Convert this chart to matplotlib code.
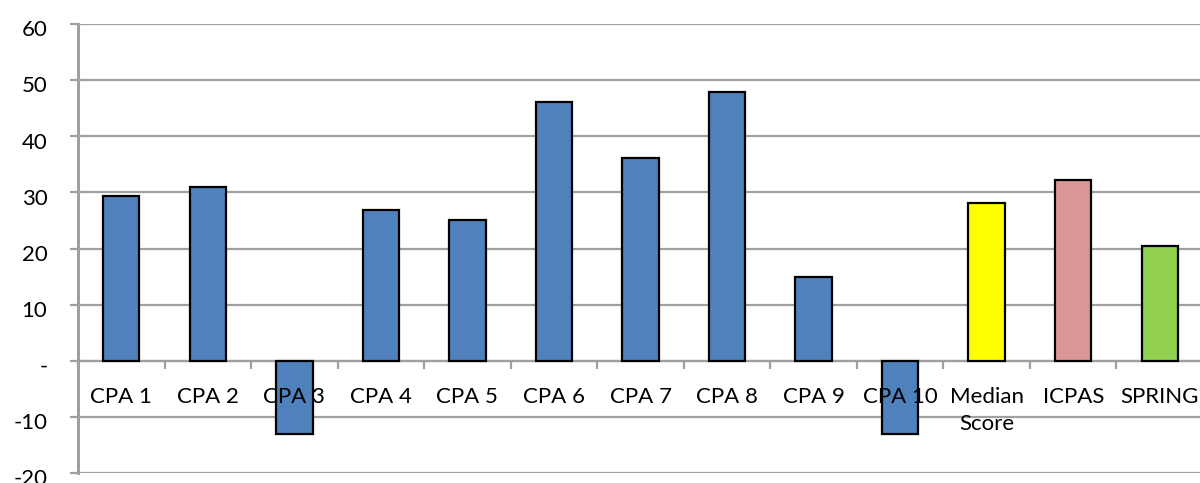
import numpy as np
import matplotlib.pyplot as plt
import matplotlib.transforms as mtransforms
from matplotlib.ticker import FixedLocator, FixedFormatter

# data
categories = ['CPA 1', 'CPA 2', 'CPA 3', 'CPA 4', 'CPA 5', 'CPA 6', 'CPA 7',
              'CPA 8', 'CPA 9', 'CPA 10', 'Median\nScore', 'ICPAS', 'SPRING']
values = [29.4, 31.0, -13.0, 26.9, 25.1, 46.1, 36.1, 47.9, 15.0, -13.0, 28.1, 32.3, 20.5]
colors = ['#4F81BD'] * 10 + ['#FFFF00', '#D99694', '#92D050']
yticks = [-20, -10, 0, 10, 20, 30, 40, 50, 60]
ylabels = ['-20', '-10', '-', '10', '20', '30', '40', '50', '60']

plt.rcParams['font.family'] = ['Lato', 'DejaVu Sans']

fig = plt.figure(figsize=(12, 4.83), dpi=100)
ax = fig.add_axes([0.065, 0.0207, 0.9375, 0.9293])
ax.set_axisbelow(True)

x = np.arange(len(categories))
ax.bar(x, values, width=0.42, color=colors, edgecolor='black', linewidth=1.6, zorder=3)

ax.set_xlim(-0.5, len(categories) - 0.5)
ax.set_ylim(-20, 60)

# y axis
ax.yaxis.set_major_locator(FixedLocator(yticks))
ax.yaxis.set_major_formatter(FixedFormatter(ylabels))
ax.tick_params(axis='y', length=6, width=1.6, color='#a0a0a0', pad=16, labelsize=16)
ax.grid(axis='y', color='#a0a0a0', linewidth=1.6)
# labels sit a few pixels below their gridline in the original
shift = mtransforms.ScaledTranslation(0, -3 / 72, fig.dpi_scale_trans)
for t in ax.get_yticklabels():
    t.set_transform(t.get_transform() + shift)

# x axis on the zero line
ax.spines['bottom'].set_position(('data', 0))
ax.spines['bottom'].set_color('#a0a0a0')
ax.spines['bottom'].set_linewidth(1.6)
ax.spines['left'].set_color('#a0a0a0')
ax.spines['left'].set_linewidth(2.2)
ax.spines['top'].set_visible(False)
ax.spines['right'].set_visible(False)

ax.xaxis.set_major_locator(FixedLocator(np.arange(len(categories) + 1) - 0.5))
ax.xaxis.set_major_formatter(FixedFormatter([''] * (len(categories) + 1)))
ax.tick_params(axis='x', which='major', length=6, width=1.6, color='#a0a0a0', direction='out')

# category labels sit under the zero line, drawn over the bars
for xi, lab in zip(x, categories):
    ax.annotate(lab, (xi, 0), xytext=(0, -19), textcoords='offset points',
                ha='center', va='top', fontsize=16, linespacing=1.45,
                zorder=6, annotation_clip=False)

fig.savefig('out.png', dpi=100)
